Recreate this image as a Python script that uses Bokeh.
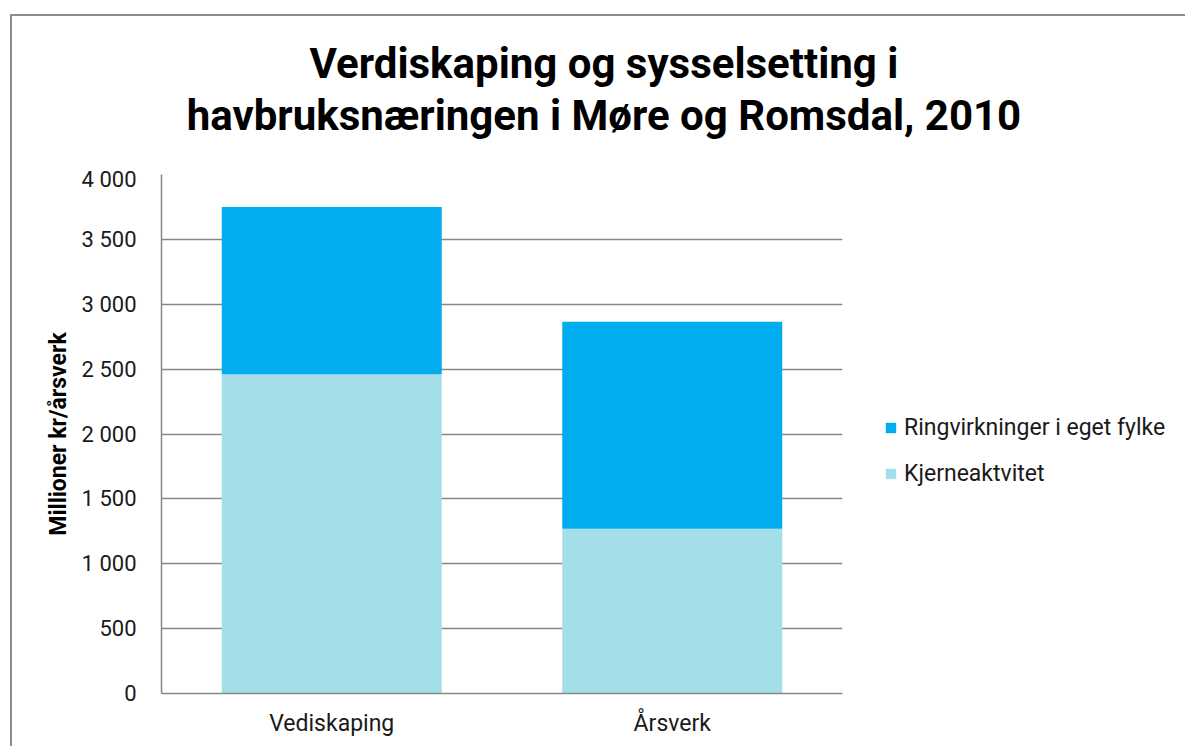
from bokeh.plotting import figure
from bokeh.models import (ColumnDataSource, FactorRange, Range1d, Legend, LegendItem,
                          FixedTicker, Div)
from bokeh.layouts import column
from bokeh.embed import file_html
from bokeh.resources import INLINE

# ---- data ----
categories = ["Vediskaping", "Årsverk"]
kjerneaktivitet = [2460, 1270]
ringvirkninger = [1290, 1595]
tick_values = [0, 500, 1000, 1500, 2000, 2500, 3000, 3500, 4000]
tick_labels = ["0", "500", "1 000", "1 500", "2 000", "2 500", "3 000", "3 500", "4 000"]
series_names = ["Kjerneaktvitet", "Ringvirkninger i eget fylke"]
title_lines = ["Verdiskaping og sysselsetting i", "havbruksnæringen i Møre og Romsdal, 2010"]
y_label = "Millioner kr/årsverk"

FONT = "Roboto"
GRID = "#898989"
C_LIGHT = "#A3DEE9"
C_DARK = "#00AEEF"

source = ColumnDataSource(data=dict(cat=categories, kjerne=kjerneaktivitet, ring=ringvirkninger))

TITLE_H = 140
p = figure(x_range=FactorRange(*categories), y_range=Range1d(0, 4000),
           frame_width=681, frame_height=519, output_backend="svg", toolbar_location=None,
           min_border_left=149, min_border_top=8, min_border_right=10,
           min_border_bottom=53)
p.x_range.range_padding = 0
p.outline_line_color = None
p.background_fill_color = "white"
p.border_fill_color = "white"

rs = p.vbar_stack(["kjerne", "ring"], x="cat", width=0.646, color=[C_LIGHT, C_DARK],
                  line_color=None, source=source)

# axes
p.yaxis.ticker = FixedTicker(ticks=tick_values)
p.yaxis.major_label_overrides = {v: l for v, l in zip(tick_values, tick_labels)}
p.yaxis.major_tick_line_color = None
p.yaxis.major_tick_out = 0
p.yaxis.major_tick_in = 0
p.yaxis.minor_tick_line_color = None
p.yaxis.axis_line_color = GRID
p.yaxis.axis_line_width = 1.5
p.yaxis.major_label_standoff = 25
p.yaxis.major_label_text_font = FONT
p.yaxis.major_label_text_font_size = "22px"
p.yaxis.major_label_text_color = "#1a1a1a"
p.yaxis.axis_label = y_label
p.yaxis.axis_label_text_font = FONT
p.yaxis.axis_label_text_font_style = "bold"
p.yaxis.axis_label_text_font_size = "23px"
p.yaxis.axis_label_text_color = "black"
p.yaxis.axis_label_standoff = 7

p.xaxis.major_tick_line_color = None
p.xaxis.major_tick_out = 0
p.xaxis.major_tick_in = 0
p.xaxis.axis_line_color = GRID
p.xaxis.axis_line_width = 1.5
p.xaxis.major_label_standoff = 16
p.xaxis.major_label_text_font = FONT
p.xaxis.major_label_text_font_size = "23px"
p.xaxis.major_label_text_color = "#1a1a1a"

p.xgrid.grid_line_color = None
p.ygrid.grid_line_color = GRID
p.ygrid.grid_line_width = 1.5

legend = Legend(items=[LegendItem(label=series_names[1], renderers=[rs[1]]),
                       LegendItem(label=series_names[0], renderers=[rs[0]])],
                location=(42, 206), glyph_width=13, glyph_height=13, label_standoff=7,
                spacing=19, padding=0, margin=0, border_line_alpha=0, background_fill_alpha=0,
                label_text_font=FONT, label_text_font_size="23px", label_text_color="#1a1a1a")
p.add_layout(legend, "right")

title = Div(text="<br>".join(title_lines), width=1170, height=TITLE_H,
            styles={"font-family": "Roboto", "font-weight": "bold", "font-size": "42px",
                    "line-height": "52px", "color": "black", "text-align": "center",
                    "padding-top": "17px", "padding-left": "4px", "box-sizing": "border-box"})

layout = column(title, p, spacing=0,
                styles={"margin-left": "10px", "margin-top": "14px",
                        "border-top": "2px solid #8c8c8c", "border-left": "2px solid #8c8c8c"})

open("out.html", "w").write(file_html(layout, INLINE))
